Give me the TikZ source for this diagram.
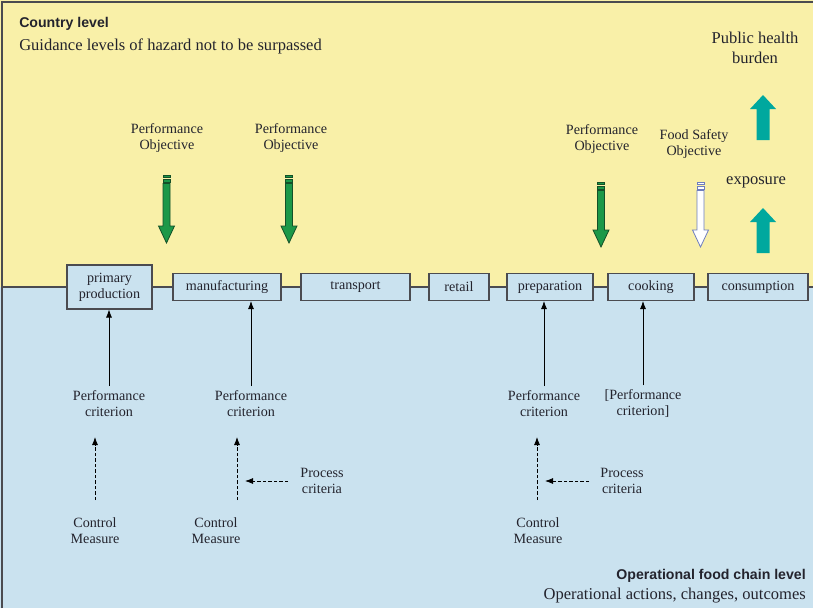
\documentclass[tikz,border=0pt]{standalone}
\usepackage{fontspec}
\setmainfont{Liberation Serif}
\newfontfamily\lsans{Liberation Sans}
\usetikzlibrary{arrows.meta,calc}
\definecolor{ylw}{RGB}{249,240,168}
\definecolor{blu}{RGB}{202,226,239}
\definecolor{grn}{RGB}{28,152,72}
\definecolor{dgrn}{RGB}{20,80,40}
\definecolor{tealc}{RGB}{0,168,158}
\definecolor{edgec}{RGB}{75,75,80}
\definecolor{wout}{RGB}{110,125,190}
\definecolor{txt}{RGB}{35,35,45}
\newcommand\lblfont{\fontsize{10.6}{12}\selectfont}
\newcommand\bigfont{\fontsize{12.4}{15}\selectfont}
\newcommand\objarrow[5]{%
  \filldraw[fill=#4, draw=#5, line width=0.6pt] (#1-3.5,#2) rectangle (#1+3.5,#2+2.5);
  \filldraw[fill=#4, draw=#5, line width=0.6pt] (#1-3.5,#2+4) rectangle (#1+3.5,#2+7);
  \filldraw[fill=#4, draw=#5, line width=0.6pt] (#1-3.5,#2+8.5) -- (#1-3.5,#3-17) -- (#1-8,#3-17) -- (#1,#3) -- (#1+8,#3-17) -- (#1+3.5,#3-17) -- (#1+3.5,#2+8.5) -- cycle;}
\newcommand\upteal[3]{%
  \fill[tealc] (#1-6.5,#3) -- (#1-6.5,#2+14) -- (#1-13,#2+14) -- (#1,#2) -- (#1+13,#2+14) -- (#1+6.5,#2+14) -- (#1+6.5,#3) -- cycle;}
\begin{document}
\begin{tikzpicture}[x=0.75pt,y=-0.75pt,
  box/.style={draw=edgec, fill=blu, line width=0.8pt, inner sep=0pt, align=center,
    font=\lblfont, text=txt, minimum height=20.25pt},
  lbl/.style={align=center, font=\lblfont, text=txt, inner sep=0pt},
  big/.style={align=center, font=\bigfont, text=txt, inner sep=0pt},
  hd/.style={font=\lsans\bfseries\fontsize{10.6}{12}\selectfont, text=txt, inner sep=0pt},
  solidarrow/.style={-{Latex[length=6pt,width=4.5pt]}, line width=0.6pt, draw=black},
  dasharrow/.style={-{Latex[length=6pt,width=4.5pt]}, line width=0.6pt, draw=black,
    dash pattern=on 2.5pt off 1.6pt},
  chain/.style={draw=edgec, line width=0.8pt}]
\useasboundingbox (0,0) rectangle (813,608);
% backgrounds
\fill[ylw] (0,0) rectangle (813,287);
\fill[blu] (0,287) rectangle (813,608);
\draw[edgec, line width=1pt] (2,608) -- (2,2) -- (813,2);

% headings
\node[hd, anchor=west] (cl) at (19,24) {Country level};
\node[big, anchor=west] (gl) at (19,46) {Guidance levels of hazard not to be surpassed};
\node[hd, anchor=east] (ofl) at (806,576) {Operational food chain level};
\node[big, anchor=east] (oac) at (806,596) {Operational actions, changes, outcomes};

% chain boxes
\node[box, minimum width=63.75pt, minimum height=33pt] (pp) at (109.5,287) {primary\\production};
\node[box, minimum width=81pt] (man) at (227,287) {manufacturing};
\node[box, minimum width=81.75pt] (tra) at (355.5,287) {transport};
\node[box, minimum width=45pt] (ret) at (459,287) {retail};
\node[box, minimum width=64.5pt] (pre) at (550,287) {preparation};
\node[box, minimum width=64.5pt] (coo) at (651,287) {cooking};
\node[box, minimum width=75pt] (con) at (758,287) {consumption};
\coordinate (cl0) at (2,287);
\coordinate (cr0) at (813,287);
\draw[chain] (cl0) -- (pp) -- (man) -- (tra) -- (ret) -- (pre) -- (coo) -- (con) -- (cr0);

% objectives
\node[lbl] (po1) at (167,138) {Performance\\Objective};
\node[lbl] (po2) at (291,138) {Performance\\Objective};
\node[lbl] (po3) at (602,139) {Performance\\Objective};
\node[lbl] (fso) at (694,144) {Food Safety\\Objective};
\node[big] (exp) at (756,182) {exposure};
\node[big] (phb) at (755,48) {Public health\\burden};

\objarrow{166.5}{175}{243}{grn}{dgrn}
\objarrow{289}{175}{243}{grn}{dgrn}
\objarrow{601}{182}{247}{grn}{dgrn}
\objarrow{700.5}{182}{247}{white}{wout}
\upteal{763}{95}{140}
\upteal{763}{208}{253}

% bottom labels
\node[lbl] (pc1) at (109,403.5) {Performance\\criterion};
\node[lbl] (pc2) at (251,403.5) {Performance\\criterion};
\node[lbl] (pc3) at (544,403.5) {Performance\\criterion};
\node[lbl] (pc4) at (643,403.5) {[Performance\\criterion]};
\node[lbl] (cm1) at (95,531) {Control\\Measure};
\node[lbl] (cm2) at (216,531) {Control\\Measure};
\node[lbl] (cm3) at (538,531) {Control\\Measure};
\node[lbl] (pr1) at (322,481) {Process\\criteria};
\node[lbl] (pr2) at (622,481) {Process\\criteria};

\draw[solidarrow, shorten <=3pt] (pc1.north) -- (pc1.north |- pp.south);
\draw[solidarrow, shorten <=3pt] (pc2.north) -- (pc2.north |- man.south);
\draw[solidarrow, shorten <=3pt] (pc3.north) -- (pc3.north |- pre.south);
\draw[solidarrow, shorten <=3pt] (pc4.north) -- (pc4.north |- coo.south);

\coordinate (d1s) at (95,500);  \coordinate (d1e) at (95,437);
\coordinate (d2s) at (237,500); \coordinate (d2e) at (237,437);
\coordinate (d3s) at (537,500); \coordinate (d3e) at (537,437);
\coordinate (h1s) at (288,481); \coordinate (h1e) at (245,481);
\coordinate (h2s) at (589,481); \coordinate (h2e) at (545,481);
\draw[dasharrow] (d1s) -- (d1e);
\draw[dasharrow] (d2s) -- (d2e);
\draw[dasharrow] (d3s) -- (d3e);
\draw[dasharrow] (h1s) -- (h1e);
\draw[dasharrow] (h2s) -- (h2e);
\end{tikzpicture}
\end{document}
